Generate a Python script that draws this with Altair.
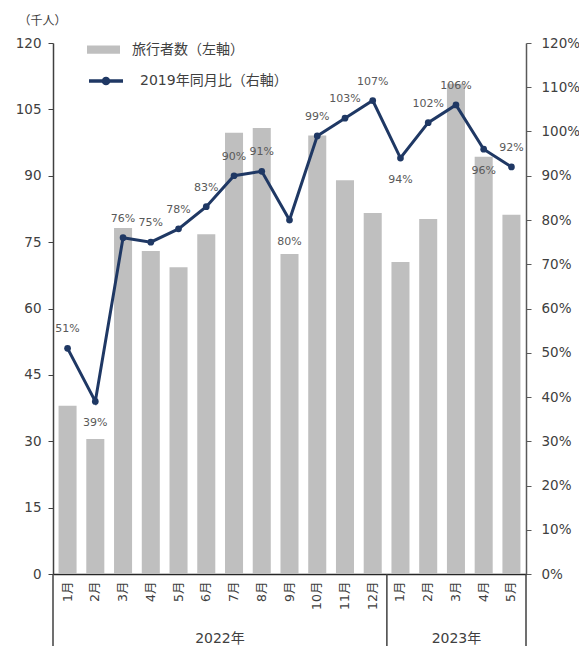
import altair as alt
import pandas as pd

# ---- data ----
years = [2022] * 12 + [2023] * 5
months = list(range(1, 13)) + list(range(1, 6))
travelers = [38.0, 30.5, 78.2, 73.0, 69.3, 76.8, 99.7, 100.8, 72.3, 99.1,
             89.0, 81.6, 70.5, 80.2, 110.8, 94.3, 81.2]          # 千人
ratio_2019 = [51, 39, 76, 75, 78, 83, 90, 91, 80, 99, 103, 107,
              94, 102, 106, 96, 92]                                # %
label_side = ["above", "below", "above", "above", "above", "above", "above",
              "above", "below", "above", "above", "above", "below", "above",
              "above", "below", "above"]

year_labels = ["2022年", "2023年"]
year_start = [0, 12]
year_end = [12, 17]
year_bounds = [0, 12, 17]

bar_name = "旅行者数（左軸）"
line_name = "2019年同月比（右軸）"
left_ticks = list(range(0, 121, 15))
right_ticks = list(range(0, 121, 10))

# ---- tables ----
keys = [f"{y}-{m}" for y, m in zip(years, months)]
df = pd.DataFrame({
    "key": keys,
    "travelers": travelers,
    "ratio": ratio_2019,
    "side": label_side,
    "s_bar": bar_name,
    "s_line": line_name,
})
yr_df = pd.DataFrame({"label": year_labels, "start": year_start, "end": year_end})
bound_df = pd.DataFrame({"b": year_bounds})

FONT = "DejaVu Sans, Noto Sans CJK JP"
TXT = "#404040"
NAVY = "#1f3864"
GRAY = "#bfbfbf"
W, H = 473, 531

x_enc = alt.X(
    "key:N", sort=keys,
    scale=alt.Scale(paddingInner=0.35, paddingOuter=0.2),
    axis=alt.Axis(title=None, labelExpr="split(datum.value, '-')[1] + '月'",
                  labelAngle=270, ticks=False, labelPadding=7,
                  domainColor="#262626", domainWidth=1.5,
                  labelFontSize=12.5, labelColor=TXT),
)

base = alt.Chart(df)

bars = base.mark_bar().encode(
    x=x_enc,
    y=alt.Y("travelers:Q",
            scale=alt.Scale(domain=[0, 120], nice=False),
            axis=alt.Axis(values=left_ticks, grid=False, title="（千人）",
                          titleAngle=0, titleX=-11, titleY=-23,
                          titleAlign="center", titleBaseline="middle",
                          titleFontSize=12, titleFontWeight="normal",
                          titleColor=TXT,
                          domainColor="#404040", domainWidth=1.5,
                          tickColor="#404040", tickSize=5,
                          labelFontSize=13.5, labelColor=TXT, labelPadding=7)),
    fill=alt.Fill("s_bar:N", scale=alt.Scale(domain=[bar_name], range=[GRAY]),
                  legend=alt.Legend(title=None, orient="none", legendX=34,
                                    legendY=-10, padding=0,
                                    symbolType="M-1,-0.25H1V0.25H-1Z",
                                    symbolSize=1089, symbolStrokeWidth=0,
                                    labelFontSize=14, labelColor=TXT,
                                    labelOffset=12, labelFont=FONT)),
)

y_r = alt.Y("ratio:Q", scale=alt.Scale(domain=[0, 120], nice=False),
            axis=alt.Axis(orient="right", values=right_ticks, grid=False,
                          title=None, labelExpr="datum.value + '%'",
                          domainColor="#595959", domainWidth=1.5,
                          tickColor="#595959", tickSize=5,
                          labelFontSize=13.5, labelColor=TXT, labelPadding=10))

line = base.mark_line(strokeWidth=3).encode(
    x=x_enc, y=y_r,
    stroke=alt.Stroke("s_line:N",
                      scale=alt.Scale(domain=[line_name], range=[NAVY]),
                      legend=alt.Legend(title=None, orient="none", legendX=34,
                                        legendY=19, padding=0,
                                        symbolType="M-1,0H1M-0.15,0A0.15,0.15,0,1,1,0.15,0A0.15,0.15,0,1,1,-0.15,0",
                                        symbolSize=1156, symbolStrokeWidth=3.5,
                                        symbolFillColor=NAVY,
                                        labelFontSize=14, labelColor=TXT,
                                        labelOffset=15, labelFont=FONT)),
)
points = base.mark_circle(size=45, color=NAVY, opacity=1).encode(x=x_enc, y=y_r)

lab_base = base.transform_calculate(lbl="datum.ratio + '%'")
lab_above = lab_base.transform_filter("datum.side == 'above'").mark_text(
    dy=-19, fontSize=11, color="#595959").encode(x=x_enc, y=y_r, text="lbl:N")
lab_below = lab_base.transform_filter("datum.side == 'below'").mark_text(
    dy=22, fontSize=11, color="#595959").encode(x=x_enc, y=y_r, text="lbl:N")

line_group = alt.layer(line, points, lab_above, lab_below)
main = alt.layer(bars, line_group).resolve_scale(y="independent")

yr_scale = alt.Scale(domain=[0, 17], nice=False, zero=False)
seps = alt.Chart(bound_df).mark_rule(color="#404040", strokeWidth=1.5).encode(
    x=alt.X("b:Q", scale=yr_scale, axis=None),
    y=alt.value(H), y2=alt.value(H + 110),
)
yr_text = alt.Chart(yr_df).transform_calculate(
    mid="(datum.start + datum.end) / 2"
).mark_text(fontSize=14, color=TXT).encode(
    x=alt.X("mid:Q", scale=yr_scale, axis=None),
    y=alt.value(H + 65),
    text="label:N",
)
year_group = alt.layer(seps, yr_text)

chart = alt.layer(main, year_group).resolve_scale(
    x="independent", y="independent"
).properties(
    width=W, height=H,
    autosize=alt.AutoSizeParams(type="none"),
    padding={"left": 45, "top": 35, "right": 53, "bottom": 72},
).configure(font=FONT).configure_view(stroke=None)

chart.save("out.html", embed_options={"renderer": "svg", "actions": False})
